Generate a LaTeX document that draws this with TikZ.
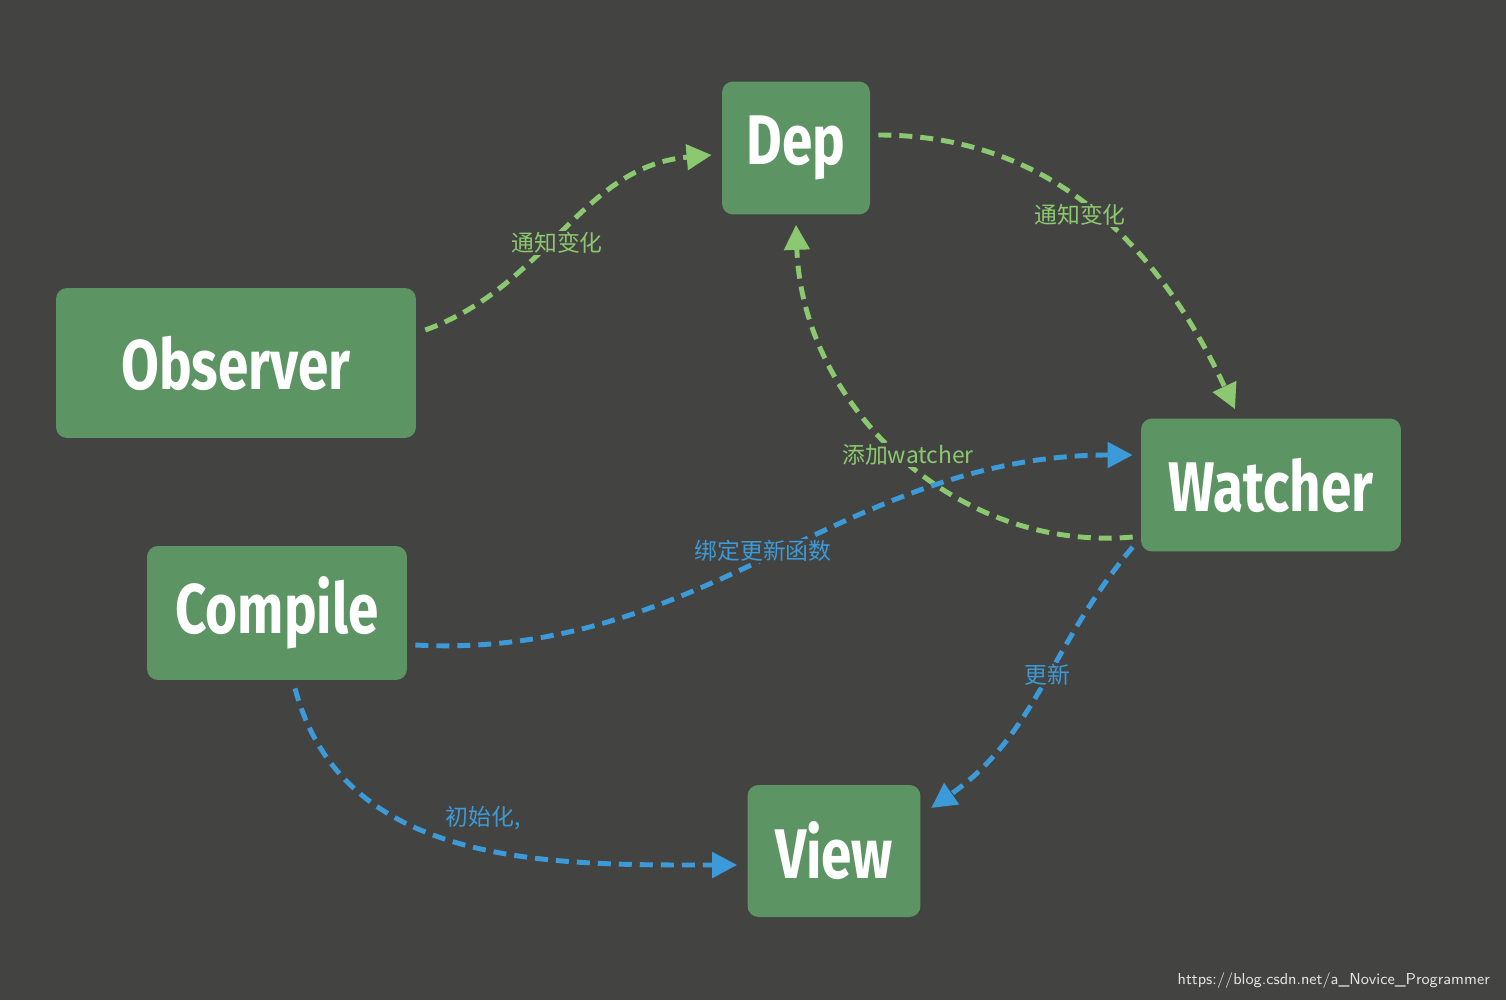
\documentclass[tikz,border=0pt]{standalone}
\usepackage{fontspec}
\newfontfamily\boxfont{Fira Sans}[FakeStretch=0.78]
\newfontfamily\cjk{Noto Sans CJK SC}
\usetikzlibrary{arrows.meta,calc}
\definecolor{bgc}{HTML}{434441}
\definecolor{boxc}{HTML}{5C9464}
\definecolor{grn}{HTML}{8CC870}
\definecolor{blu}{HTML}{3D9AD8}
\tikzset{
  box/.style={fill=boxc, rounded corners=0.22cm, text=white, inner sep=0pt,
    font=\boxfont\bfseries\fontsize{40}{40}\selectfont},
  flow/.style={line width=2.8pt, dash pattern=on 0.26cm off 0.16cm,
    -{Triangle[length=0.5cm,width=0.5cm]}},
  gflow/.style={flow, draw=grn, grn},
  bflow/.style={flow, draw=blu, blu},
  lbl/.style={fill=bgc, inner sep=1pt, font=\cjk\fontsize{13}{13}\selectfont}
}
\begin{document}
\begin{tikzpicture}[x=0.02cm,y=-0.02cm]
\fill[bgc] (0,0) rectangle (1506,1000);
\useasboundingbox (0,0) rectangle (1506,1000);
% boxes
\node[box, minimum width=7.2cm, minimum height=3cm] (obs) at (236,363) {Observer};
\node[box, minimum width=2.96cm, minimum height=2.66cm] (dep) at (796,148) {Dep};
\node[box, minimum width=5.2cm, minimum height=2.66cm] (wat) at (1271,485) {Watcher};
\node[box, minimum width=5.2cm, minimum height=2.68cm] (cmp) at (277,613) {Compile};
\node[box, minimum width=3.46cm, minimum height=2.64cm] (view) at (834,851) {View};
% green
\draw[gflow] ($(obs.east)+(9,-33)$) to[out=20,in=185] ($(dep.west)+(-10,7)$);
\draw[gflow] ($(dep.east)+(8,-13)$) to[out=0,in=115] ($(wat.north)+(-36,-9)$);
\draw[gflow] ($(wat.west)+(-8,52)$) to[out=185,in=-88] ($(dep.south)+(0,10)$);
% blue
\draw[bflow] ($(cmp.east)+(8,32)$) to[out=-3,in=180] ($(wat.west)+(-8,-30)$);
\draw[bflow] ($(wat.west)+(-8,62)$) to[out=-130,in=35] ($(view.west)+(184,-43)$);
\draw[bflow] ($(cmp.south)+(18,8)$) to[out=-75,in=180] ($(view.west)+(-10,14)$);
% labels
\node[lbl, text=grn] (l1) at (557,243) {通知变化};
\node[lbl, text=grn] (l2) at (1080,215) {通知变化};
\node[lbl, text=grn] (l3) at (908,455) {添加watcher};
\node[lbl, text=blu] (l4) at (763,551) {绑定更新函数};
\node[lbl, text=blu] (l5) at (1047,675) {更新};
\node[lbl, text=blu] (l6) at (483,818) {初始化,};
\node[anchor=east, text=white!85!bgc, font=\sffamily\fontsize{9}{9}\selectfont] (wm) at (1496,981) {https://blog.csdn.net/a\_Novice\_Programmer};
\end{tikzpicture}
\end{document}
